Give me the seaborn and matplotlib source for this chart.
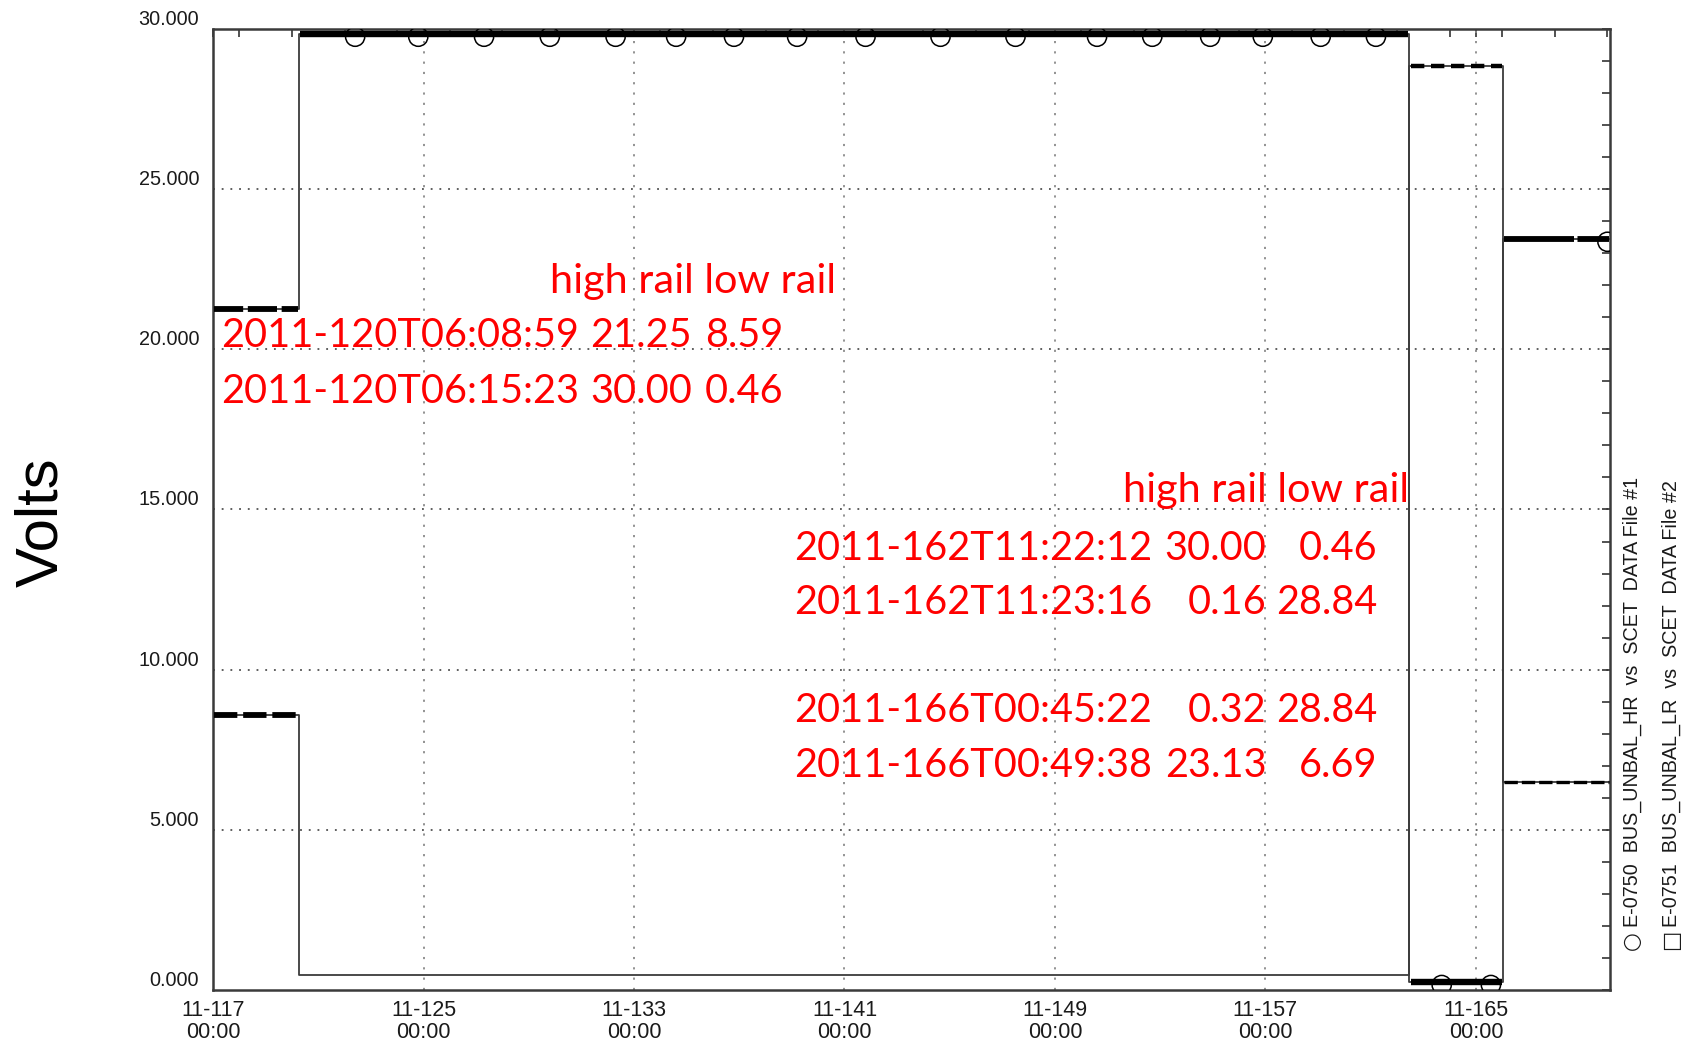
import numpy as np
import pandas as pd
import matplotlib
matplotlib.use("Agg")
import matplotlib.pyplot as plt
import seaborn as sns
from matplotlib.ticker import MultipleLocator
from matplotlib.transforms import offset_copy

# ---------------- data ----------------
# 2011 day-of-year at which each level starts (last entry = end of data)
step_doy = [117.0, 120.2607, 162.4745, 166.0345, 170.1]
hr_volts = [21.25, 29.85, 0.25, 23.45, 23.45]   # E-0750 BUS_UNBAL_HR
lr_volts = [8.59, 0.46, 28.84, 6.50, 6.50]      # E-0751 BUS_UNBAL_LR

# days at which open-circle HR samples are visible
hr_circle_doy = [122.4, 124.8, 127.3, 129.8, 132.3, 134.6, 136.8, 139.2,
                 141.8, 144.65, 147.5, 150.6, 152.7, 154.9, 156.9, 159.1,
                 161.2, 163.7, 165.57, 170.0]

x_tick_doy = [117, 125, 133, 141, 149, 157, 165]
x_tick_labels = ["11-117\n00:00", "11-125\n00:00", "11-133\n00:00", "11-141\n00:00",
                 "11-149\n00:00", "11-157\n00:00", "11-165\n00:00"]
y_ticks = [0, 5, 10, 15, 20, 25, 30]
y_tick_labels = ["0.000", "5.000", "10.000", "15.000", "20.000", "25.000", "30.000"]

annot_header = "high rail low rail"
annot_times_1 = ["2011-120T06:08:59", "2011-120T06:15:23"]
annot_hr_1 = ["21.25", "30.00"]
annot_lr_1 = ["8.59", "0.46"]
annot_times_2 = ["2011-162T11:22:12", "2011-162T11:23:16", "2011-166T00:45:22", "2011-166T00:49:38"]
annot_hr_2 = ["30.00", "0.16", "0.32", "23.13"]
annot_lr_2 = ["0.46", "28.84", "28.84", "6.69"]

legend_symbols = ["\u25CB", "\u25A1"]
legend_labels = ["E-0750  BUS_UNBAL_HR  vs  SCET  DATA File #1",
                 "E-0751  BUS_UNBAL_LR  vs  SCET  DATA File #2"]
y_label = "Volts"

# ---------------- styling ----------------
sns.set_style("white")
plt.rcParams['font.family'] = ['Liberation Sans', 'DejaVu Sans']

fig = plt.figure(figsize=(16.87, 10.41), dpi=100)
ax = fig.add_axes([0.1263, 0.049, 0.8281, 0.9232])

# thin step traces
hr_df = pd.DataFrame({"doy": step_doy, "volts": hr_volts})
lr_df = pd.DataFrame({"doy": step_doy, "volts": lr_volts})
for df in (hr_df, lr_df):
    sns.lineplot(data=df, x="doy", y="volts", drawstyle="steps-post", estimator=None,
                 sort=False, color="#3c3c3c", linewidth=1.3, ax=ax, zorder=3)

# dense sample bands (thick overlays) per level segment
hr_seg_lw = [4.2, 4.6, 4.6, 4.2]
hr_seg_dash = [(5, 0.8), None, None, (12, 0.6)]
lr_seg_lw = [4.2, 0, 3.2, 2.4]
lr_seg_dash = [(4, 1.0), None, (3, 1.5), (4, 1.2)]
for volts, lws, dashes in ((hr_volts, hr_seg_lw, hr_seg_dash), (lr_volts, lr_seg_lw, lr_seg_dash)):
    for i in range(len(step_doy) - 1):
        if lws[i] <= 0:
            continue
        seg = pd.DataFrame({"doy": [step_doy[i] + 0.05, step_doy[i + 1] - 0.05],
                            "volts": [volts[i], volts[i]]})
        sns.lineplot(data=seg, x="doy", y="volts", color="black", linewidth=lws[i],
                     ax=ax, zorder=4, estimator=None)
        if dashes[i] is not None:
            ax.lines[-1].set_dashes(dashes[i])
        ax.lines[-1].set_solid_capstyle("butt")

# open-circle HR samples
idx = np.searchsorted(step_doy, hr_circle_doy, side="right") - 1
idx = np.clip(idx, 0, len(hr_volts) - 1)
circle_volts = [hr_volts[i] for i in idx]
sns.scatterplot(x=hr_circle_doy, y=circle_volts, marker="o", s=190,
                facecolor="none", edgecolor="black", linewidth=1.1, ax=ax, zorder=3.5, legend=False)
ax.collections[-1].set_offset_transform(offset_copy(ax.transData, fig=fig, x=0, y=-3, units="dots"))

# axes
ax.set_xlim(117.0, 170.1)
ax.set_ylim(0, 30)
ax.set_xticks(x_tick_doy, labels=x_tick_labels)
ax.set_yticks(y_ticks, labels=y_tick_labels)
ax.xaxis.set_minor_locator(MultipleLocator(2))
ax.yaxis.set_minor_locator(MultipleLocator(1))
ax.tick_params(which="both", direction="in", top=True, right=True, length=6, width=1.2, colors="#333333")
ax.tick_params(axis="x", which="major", pad=7, labelsize=15.5, labelcolor="#1a1a1a")
ax.tick_params(axis="y", which="major", pad=10, labelsize=14.3, labelcolor="#1a1a1a")
for lab in ax.get_xticklabels():
    lab.set_linespacing(1.05)
for lab in ax.get_yticklabels():
    lab.set_verticalalignment("bottom")

for sp in ax.spines.values():
    sp.set_color("#3a3a3a")
    sp.set_linewidth(1.8)

ax.grid(False)
for yv in y_ticks[1:]:
    ax.axhline(yv, color="#333333", linewidth=1.1, linestyle=(0, (1.2, 4.5)), zorder=1)
for xv in x_tick_doy[1:]:
    ax.axvline(xv, color="#8a8a8a", linewidth=1.3, linestyle=(0, (1.2, 4.5)), zorder=1)

ax.set_xlabel("")
ax.set_ylabel(y_label, fontsize=43, color="black")
ax.yaxis.set_label_coords(-0.103, 0.487)

# red annotations
red = "#ff0000"
afont = dict(family=["Lato", "DejaVu Sans"], fontsize=28.5, color=red, va="baseline")
hfont = dict(afont, fontsize=29.8)
fig.text(0.3259, 0.7189, annot_header, ha="left", **hfont)
for k, yy in enumerate([0.6662, 0.6124]):
    fig.text(0.1308, yy, annot_times_1[k], ha="left", **afont)
    fig.text(0.4101, yy, annot_hr_1[k], ha="right", **afont)
    fig.text(0.4643, yy, annot_lr_1[k], ha="right", **afont)
fig.text(0.6658, 0.5178, annot_header, ha="left", **hfont)
for k, yy in enumerate([0.4625, 0.4099, 0.3064, 0.2538]):
    fig.text(0.4707, yy, annot_times_2[k], ha="left", **afont)
    fig.text(0.7506, yy, annot_hr_2[k], ha="right", **afont)
    fig.text(0.8164, yy, annot_lr_2[k], ha="right", **afont)

# rotated legend text on the right
for xx, sym, txt in zip([0.9674, 0.9905], legend_symbols, legend_labels):
    fig.text(xx, 0.0870, sym, rotation=90, ha="center", va="bottom", fontsize=15.5,
             color="#1a1a1a", family=["DejaVu Sans"])
    fig.text(xx, 0.0870 + 23 / 1041, txt, rotation=90, ha="center", va="bottom",
             fontsize=14.2, color="#1a1a1a")

fig.savefig("out.png", dpi=100)
